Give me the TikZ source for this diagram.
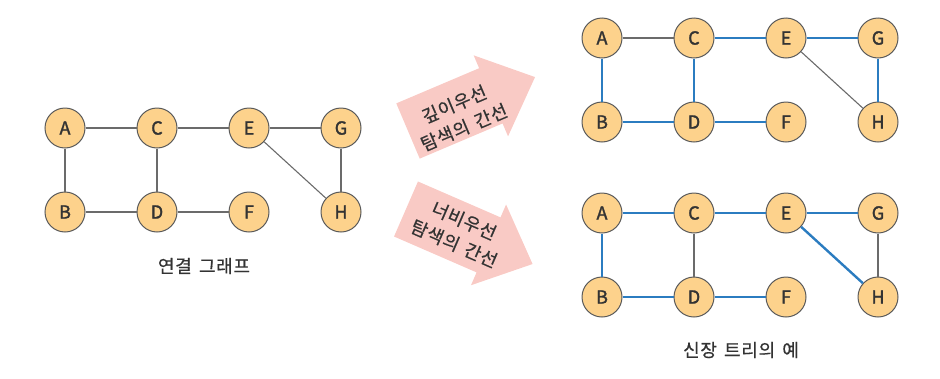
\documentclass[tikz,border=0pt]{standalone}
\usepackage{fontspec}
\setmainfont{Noto Sans CJK KR}
\newfontfamily\lblfont[LetterSpace=4, WordSpace=1.5, FakeBold=0.6]{Noto Sans CJK KR}
\newfontfamily\vtxfont[FakeBold=1.6]{Noto Sans CJK KR}
\definecolor{nodefill}{HTML}{FDD28C}
\definecolor{nodeline}{HTML}{5A5A5A}
\definecolor{treeblue}{HTML}{2B7CC0}
\definecolor{arrowpink}{HTML}{F9CAC5}
\definecolor{txt}{HTML}{333333}
\tikzset{
  vtx/.style={circle, draw=nodeline, line width=1pt, fill=nodefill, minimum size=40pt, inner sep=0pt, font=\vtxfont\fontsize{18}{18}\selectfont, text=txt},
  gedge/.style={draw=nodeline!90, line width=1.1pt},
  tedge/.style={draw=treeblue, line width=2.4pt},
  lbl/.style={font=\lblfont\fontsize{18}{20}\selectfont, text=txt},
  arrowtxt/.style={font=\lblfont\fontsize{18}{25}\selectfont, text=txt, align=center, transform shape},
  bigarrow/.style={fill=arrowpink, draw=none}
}
\begin{document}
\begin{tikzpicture}[x=1pt,y=1pt]
\useasboundingbox (0,0) rectangle (940,-378);
% ---- left graph ----
\node[vtx] (LA) at (65,-128) {A};
\node[vtx] (LC) at (157,-128) {C};
\node[vtx] (LE) at (249,-128) {E};
\node[vtx] (LG) at (341,-128) {G};
\node[vtx] (LB) at (65,-212) {B};
\node[vtx] (LD) at (157,-212) {D};
\node[vtx] (LF) at (249,-212) {F};
\node[vtx] (LH) at (341,-212) {H};
\draw[gedge] (LA) -- (LC);
\draw[gedge] (LC) -- (LE);
\draw[gedge] (LE) -- (LG);
\draw[gedge] (LA) -- (LB);
\draw[gedge] (LC) -- (LD);
\draw[gedge] (LG) -- (LH);
\draw[gedge] (LE) -- (LH);
\draw[gedge] (LB) -- (LD);
\draw[gedge] (LD) -- (LF);
\node[lbl] (L1) at (204,-266) {연결 그래프};
% ---- top tree (DFS) ----
\node[vtx] (TA) at (602,-38) {A};
\node[vtx] (TC) at (694,-38) {C};
\node[vtx] (TE) at (786,-38) {E};
\node[vtx] (TG) at (878,-38) {G};
\node[vtx] (TB) at (602,-122) {B};
\node[vtx] (TD) at (694,-122) {D};
\node[vtx] (TF) at (786,-122) {F};
\node[vtx] (TH) at (878,-122) {H};
\draw[gedge] (TA) -- (TC);
\draw[gedge] (TE) -- (TH);
\draw[tedge] (TA) -- (TB);
\draw[tedge] (TB) -- (TD);
\draw[tedge] (TD) -- (TC);
\draw[tedge] (TC) -- (TE);
\draw[tedge] (TE) -- (TG);
\draw[tedge] (TG) -- (TH);
\draw[tedge] (TD) -- (TF);
% ---- bottom tree (BFS) ----
\node[vtx] (BA) at (602,-213) {A};
\node[vtx] (BC) at (694,-213) {C};
\node[vtx] (BE) at (786,-213) {E};
\node[vtx] (BG) at (878,-213) {G};
\node[vtx] (BB) at (602,-297) {B};
\node[vtx] (BD) at (694,-297) {D};
\node[vtx] (BF) at (786,-297) {F};
\node[vtx] (BH) at (878,-297) {H};
\draw[gedge] (BC) -- (BD);
\draw[gedge] (BG) -- (BH);
\draw[tedge] (BA) -- (BC);
\draw[tedge] (BC) -- (BE);
\draw[tedge] (BE) -- (BG);
\draw[tedge] (BE) -- (BH);
\draw[tedge] (BA) -- (BB);
\draw[tedge] (BB) -- (BD);
\draw[tedge] (BD) -- (BF);
\node[lbl] (L2) at (741,-350) {신장 트리의 예};
% ---- arrows ----
\begin{scope}[shift={(408,-131)}, rotate=23]
\fill[bigarrow] (0,-30) -- (90,-30) -- (90,-44) -- (138,0) -- (90,44) -- (90,30) -- (0,30) -- cycle;
\node[arrowtxt] (T1) at (53,-6) {깊이우선\\탐색의 간선};
\end{scope}
\begin{scope}[shift={(406,-209)}, rotate=-23.5]
\fill[bigarrow] (0,-30) -- (90,-30) -- (90,-44) -- (138,0) -- (90,44) -- (90,30) -- (0,30) -- cycle;
\node[arrowtxt] (T2) at (58,0) {너비우선\\탐색의 간선};
\end{scope}
\end{tikzpicture}
\end{document}
